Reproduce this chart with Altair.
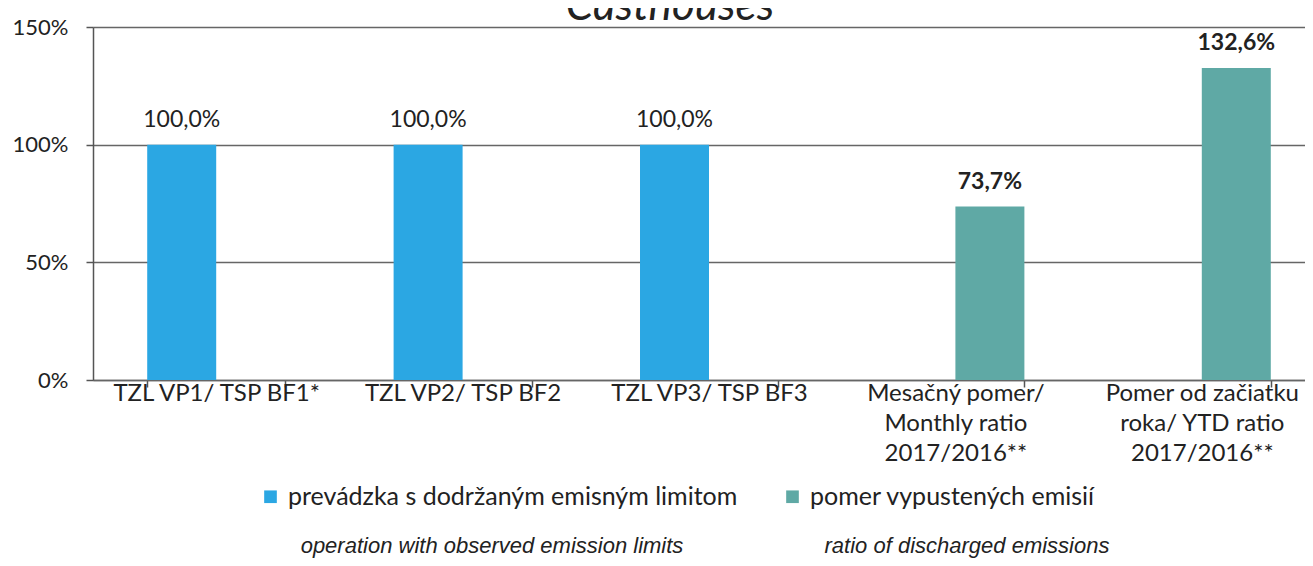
import altair as alt
import pandas as pd

# ---- data ----
categories = [
    "TZL VP1/ TSP BF1*",
    "TZL VP2/ TSP BF2",
    "TZL VP3/ TSP BF3",
    "Mesačný pomer/\nMonthly ratio\n2017/2016**",
    "Pomer  od začiatku\nroka/ YTD ratio\n2017/2016**",
]
series_names = ["prevádzka s dodržaným emisným limitom", "pomer vypustených emisií"]
bar_series = [0, 0, 0, 1, 1]
values = [100.0, 100.0, 100.0, 73.7, 132.6]
value_labels = ["100,0%", "100,0%", "100,0%", "73,7%", "132,6%"]
colors = ["#2ba7e3", "#5fa9a5"]
english_notes = ["operation with observed emission limits", "ratio of discharged emissions"]
y_ticks = [0, 50, 100, 150]
title_text = "Casthouses"

df = pd.DataFrame({
    "category": categories,
    "series": [series_names[i] for i in bar_series],
    "value": values,
    "label": value_labels,
})

FONT = "Lato"
W, H = 1212, 353

x_enc = alt.X(
    "category:N", sort=categories, title=None,
    scale=alt.Scale(range=[0, 1232], paddingInner=0.44, paddingOuter=0.22),
    axis=alt.Axis(
        labelAngle=0, labelFontSize=24, labelFont=FONT, labelColor="#222222",
        labelExpr="isValid(datum.value) ? split(datum.value, '\\n') : ''",
        labelLineHeight=30, labelBaseline="top", labelPadding=-6, labelLimit=0,
        tickBand="extent", tickSize=7, tickColor="#555555", tickWidth=1.5,
        domainColor="#666666", domainWidth=1.5, grid=False,
    ),
)
xoff_enc = alt.XOffset("series:N", scale=alt.Scale(domain=series_names, paddingInner=0, paddingOuter=0))
y_enc = alt.Y(
    "value:Q", title=None,
    scale=alt.Scale(domain=[0, 150], nice=False),
    axis=alt.Axis(
        values=y_ticks, labelExpr="datum.value + '%'", labelFontSize=22, labelFont=FONT,
        labelColor="#222222", labelPadding=18, tickSize=7, tickColor="#555555", tickWidth=1.5,
        domainColor="#555555", domainWidth=1.5, gridColor="#666666", gridWidth=1.5,
    ),
)

base = alt.Chart(df).encode(x=x_enc, xOffset=xoff_enc, y=y_enc)

bars = base.mark_bar().encode(
    color=alt.Color(
        "series:N",
        scale=alt.Scale(domain=series_names, range=colors),
        legend=alt.Legend(
            title=None, orient="none", legendX=165, legendY=457, direction="horizontal",
            symbolType="square", symbolSize=160, symbolStrokeWidth=0, labelFontSize=25,
            labelFont=FONT, labelColor="#222222", columnPadding=42, labelOffset=5,
            labelLimit=0, symbolOpacity=1,
        ),
    )
)

labels_plain = base.transform_filter(alt.datum.series == series_names[0]).mark_text(
    baseline="bottom", dy=-13, fontSize=23, font=FONT, color="#222222"
).encode(text="label:N")
labels_bold = base.transform_filter(alt.datum.series == series_names[1]).mark_text(
    baseline="bottom", dy=-13, fontSize=23, font=FONT, fontWeight="bold", color="#222222"
).encode(text="label:N")

title = alt.Chart(pd.DataFrame({"t": [title_text]})).mark_text(
    fontSize=44, font=FONT, fontStyle="italic", baseline="alphabetic", color="#222222"
).encode(x=alt.value(577), y=alt.value(-7), text="t:N")

notes_df = pd.DataFrame({"note": english_notes, "px": [399, 874]})
notes = alt.Chart(notes_df).mark_text(
    fontSize=22, font="Liberation Sans", fontStyle="italic", baseline="middle", color="#222222"
).encode(x=alt.X("px:Q", scale=None), y=alt.value(519), text="note:N")

chart = alt.layer(bars, labels_plain, labels_bold, title, notes).properties(
    width=W, height=H,
    autosize=alt.AutoSizeParams(type="none"),
    padding={"left": 85, "top": 19, "right": 0, "bottom": 178},
).configure_view(stroke=None).configure(background="white")

chart.save("out.html", embed_options={"renderer": "svg", "actions": False})
